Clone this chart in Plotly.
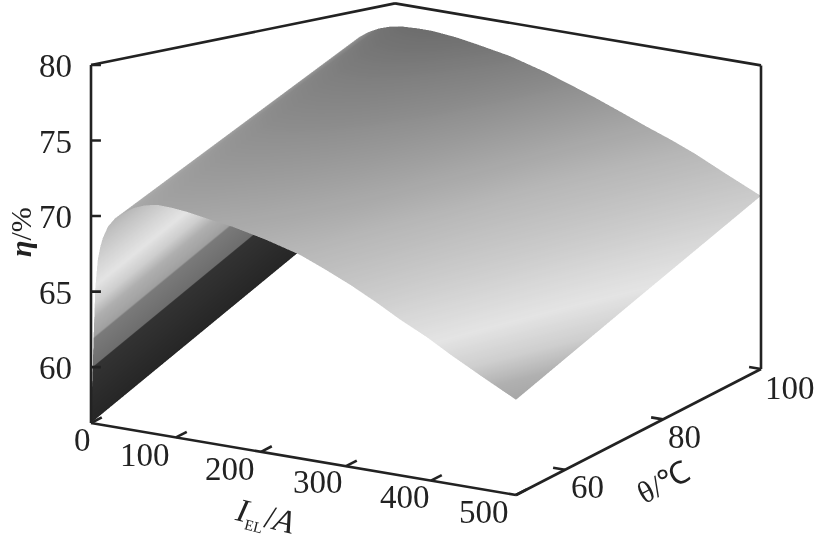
import numpy as np
import plotly.graph_objects as go

current_A = [0, 1, 2, 3, 5, 8, 11, 14, 20, 28, 38, 50, 63, 78, 95, 113, 140, 167, 205, 246, 275, 305, 335, 364, 395, 423, 460, 500]
theta_C = [50, 75, 100]
eta_at_50 = [56.3, 58.3, 60.0, 62.0, 65.3, 67.2, 68.1, 68.7, 69.5, 70.1, 70.55, 71.0, 71.3, 71.48, 71.45, 71.35, 71.1, 70.87, 70.4, 69.77, 69.1, 68.35, 67.5, 66.6, 65.75, 64.85, 63.75, 62.6]
eta_at_75 = [58.8, 60.75, 62.5, 64.4, 67.15, 69.0, 69.95, 70.55, 71.35, 71.95, 72.4, 72.8, 73.05, 73.2, 73.2, 73.15, 73.0, 72.75, 72.3, 71.65, 71.05, 70.4, 69.6, 68.9, 68.1, 67.3, 66.25, 65.2]
eta_at_100 = [61.3, 63.2, 65.0, 66.8, 69.0, 70.8, 71.8, 72.4, 73.2, 73.8, 74.2, 74.55, 74.8, 74.95, 75.0, 75.0, 74.85, 74.6, 74.2, 73.55, 73.0, 72.4, 71.75, 71.1, 70.45, 69.8, 68.8, 67.76]
low_current_weight = [1, 1, 1, 1, 1, 0.9, 0.8, 0.7, 0.5, 0.3, 0.15, 0, 0, 0, 0, 0, 0, 0, 0, 0, 0, 0, 0, 0, 0, 0, 0, 0]
eta_ticks = [60, 65, 70, 75, 80]
current_ticks = [0, 100, 200, 300, 400, 500]
theta_ticks = [60, 80, 100]
grey_stops = [
    (56.3, "#262626"), (59.95, "#333333"), (60.05, "#6e6e6e"), (61.9, "#7a7a7a"), (62.0, "#a0a0a0"),
    (63.3, "#b0b0b0"), (64.2, "#cfcfcf"), (65.5, "#e4e4e4"), (67.8, "#cbcbcb"), (70.0, "#b6b6b6"),
    (72.0, "#9c9c9c"), (74.0, "#808080"), (75.0, "#6e6e6e"),
]

Z = np.array([eta_at_50, eta_at_75, eta_at_100])
shade = Z - np.outer((np.array(theta_C) - 50) / 10.0, low_current_weight)
lo, hi = grey_stops[0][0], grey_stops[-1][0]
colorscale = [[(v - lo) / (hi - lo), c] for v, c in grey_stops]

X0, X1 = 0, 500
Y0, Y1 = 50, 100
Z0, Z1 = 56.3, 80

W, H = 817, 534
A = np.array([91.0, 423.0])
e_x = np.array([425.0, -72.0])
e_y = np.array([245.0, 126.0])
e_z = np.array([0.0, 358.0])
M = np.array([e_x, e_y, e_z]).T
r = -(M[0, 0] * M[1, 0]) / (M[0, 1] * M[1, 1])
n1 = M[0, 0]**2 + M[0, 1]**2 * r
b3 = (n1 - M[1, 0]**2 - M[1, 1]**2 * r) / M[1, 2]**2
k = 1 / n1
sa = 1 / np.sqrt(np.array([k, k * r, k * b3]))
P = M / sa
n = np.cross(P[0], P[1])
S = 267.0
asp = sa / S
mid = np.array([A[0], H - A[1]]) + (e_x + e_y + e_z) / 2
off = mid - np.array([W / 2, H / 2])
centre = -(off[0] / S) * P[0] - (off[1] / S) * P[1]
DIST = 4.0
eye = centre + DIST * n
up = P[1]


def to_paper(i, t, z):
    p = np.array([A[0], H - A[1]]) + (i - X0) / (X1 - X0) * e_x + (t - Y0) / (Y1 - Y0) * e_y + (z - Z0) / (Z1 - Z0) * e_z
    return p[0] / W, p[1] / H


fig = go.Figure()
fig.add_trace(go.Surface(
    x=current_A, y=theta_C, z=Z, surfacecolor=shade, colorscale=colorscale, cmin=lo, cmax=hi,
    showscale=False, hoverinfo="skip",
    lighting=dict(ambient=1, diffuse=0, specular=0, roughness=1, fresnel=0),
))

back_I, back_z = 69.4, 76.4
shapes = []
def seg(*pts):
    for a, b in zip(pts[:-1], pts[1:]):
        x0, y0 = to_paper(*a)
        x1, y1 = to_paper(*b)
        shapes.append(dict(type="line", xref="paper", yref="paper", x0=x0, y0=y0, x1=x1, y1=y1,
                           line=dict(color="#222222", width=2.6)))
seg((X0, Y0, Z1), (X0, Y0, Z0), (X1, Y0, Z0), (X1, Y1, Z0), (X1, Y1, back_z), (back_I, Y1, back_z), (X0, Y0, Z1))
for t in eta_ticks:
    seg((X0, Y0, t), (8.8, 50.5, t))
for t in current_ticks:
    seg((t, Y0, Z0), (t, 52.2, Z0))
for t in theta_ticks:
    seg((X1, t, Z0), (486, t, Z0))

font = dict(family="Liberation Serif", size=33, color="#222222")
ann = []
def label(pos, text, dx, dy):
    x, y = to_paper(*pos)
    ann.append(dict(xref="paper", yref="paper", x=x, y=y, xanchor="center", yanchor="middle", text=text,
                    xshift=dx, yshift=dy, showarrow=False, font=font))
for t in eta_ticks:
    label((X0, Y0, t), str(t), -36, -1)
for t, (dx, dy) in zip(current_ticks, [(-9, -17), (-31, -18), (-31, -17), (-28, -16), (-26, -16), (-32, -17)]):
    label((t, Y0, Z0), str(t), dx, dy)
for t, (dx, dy) in zip(theta_ticks, [(22, -17), (21, -18), (29, -19)]):
    label((X1, t, Z0), str(t), dx, dy)

title_font = dict(family="Liberation Serif", color="#222222")
ann += [
    dict(xref="paper", yref="paper", x=21/W, y=1-232/H, xanchor="center", yanchor="middle",
         text="<b><i>η</i></b>/%", textangle=-90, showarrow=False, font=dict(size=30, **title_font)),
    dict(xref="paper", yref="paper", x=265/W, y=1-517/H, xanchor="center", yanchor="middle",
         text='<i>I</i><sub><span style="font-size:15px">EL</span></sub>/<i>A</i>', textangle=14,
         showarrow=False, font=dict(size=33, **title_font)),
    dict(xref="paper", yref="paper", x=663/W, y=1-482/H, xanchor="center", yanchor="middle",
         text="θ/℃", textangle=-28, showarrow=False, font=dict(size=31, **title_font)),
]

fig.update_layout(
    width=W, height=H, margin=dict(l=0, r=0, t=0, b=0), paper_bgcolor="white", showlegend=False,
    shapes=shapes, annotations=ann,
    scene=dict(
        domain=dict(x=[0, 1], y=[0, 1]), bgcolor="white",
        xaxis=dict(visible=False, range=[X0, X1]),
        yaxis=dict(visible=False, range=[Y0, Y1]),
        zaxis=dict(visible=False, range=[Z0, Z1]),
        aspectmode="manual", aspectratio=dict(x=asp[0], y=asp[1], z=asp[2]),
        camera=dict(projection=dict(type="orthographic"),
                    eye=dict(x=eye[0], y=eye[1], z=eye[2]),
                    center=dict(x=centre[0], y=centre[1], z=centre[2]),
                    up=dict(x=up[0], y=up[1], z=up[2])),
    ),
)
fig.write_html("out.html", config=dict(displayModeBar=False),
               post_script="document.body.style.margin='0';document.documentElement.style.overflow='hidden';")
